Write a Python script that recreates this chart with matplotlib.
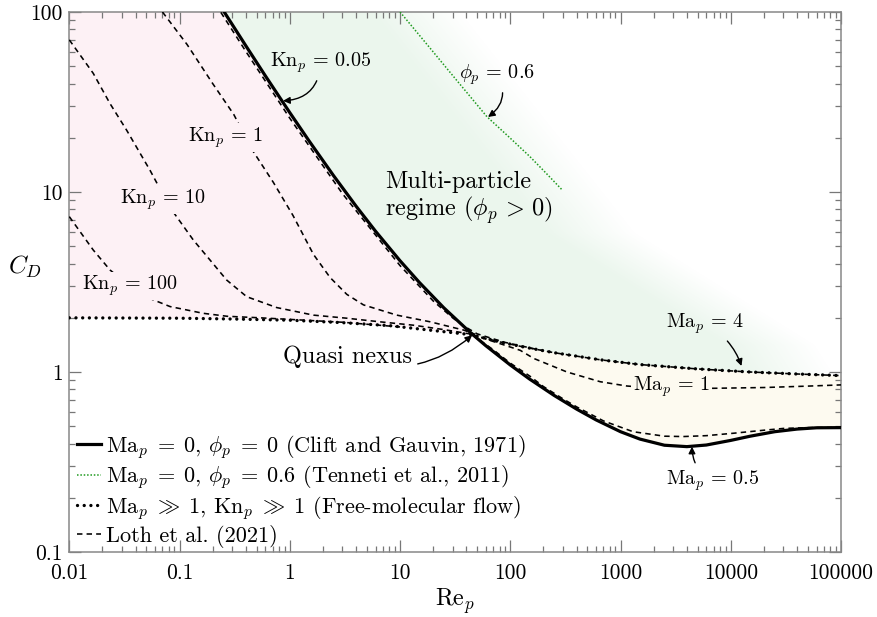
import numpy as np
import matplotlib
matplotlib.use("Agg")
import matplotlib.pyplot as plt
from matplotlib.patches import Polygon
from matplotlib.ticker import FixedLocator, FixedFormatter, NullFormatter

plt.rcParams["font.family"] = "serif"
plt.rcParams["font.serif"] = ["cmr10"]
plt.rcParams["mathtext.fontset"] = "cm"
plt.rcParams["axes.formatter.use_mathtext"] = True
plt.rcParams["axes.unicode_minus"] = False

# Clift and Gauvin (1971): Ma_p = 0, phi_p = 0
re_cg = [0.2, 0.25, 0.4, 0.6, 1, 1.5, 2.5, 4, 6, 10, 15, 25, 40, 45, 60, 100, 150, 250,
         400, 600, 1000, 1500, 2500, 4000, 6000, 10000, 15000, 25000, 40000, 60000, 100000]
cd_cg = [126, 101.6, 64.8, 44.2, 27.6, 19.17, 12.3, 8.33, 6.05, 4.15, 3.14, 2.27, 1.736, 1.626,
         1.40, 1.094, 0.913, 0.741, 0.622, 0.542, 0.466, 0.424, 0.392, 0.385, 0.393, 0.417,
         0.440, 0.466, 0.482, 0.490, 0.491]

# Tenneti et al. (2011): Ma_p = 0, phi_p = 0.6
re_phi = [10, 18.8, 30, 61.4, 100, 151, 220, 294]
cd_phi = [100, 62.8, 44.4, 26.2, 19.9, 15.7, 12.4, 10.3]

# free-molecular flow: Ma_p >> 1, Kn_p >> 1
re_fm = [0.01, 0.1, 0.3, 1, 3, 8, 20, 45, 80, 130, 250, 650, 1500, 5000, 15000, 40000, 100000]
cd_fm = [2.0, 1.99, 1.97, 1.94, 1.88, 1.81, 1.70, 1.61, 1.47, 1.38, 1.28, 1.17, 1.10, 1.04,
         1.0, 0.975, 0.955]

# Loth et al. (2021), fixed Kn_p
re_kn100 = [0.01, 0.0165, 0.0234, 0.035, 0.054, 0.082, 0.163, 0.27, 0.54, 1, 3, 10]
cd_kn100 = [7.3, 4.76, 3.69, 3.0, 2.56, 2.31, 2.12, 2.04, 2.0, 1.96, 1.89, 1.78]
re_kn10 = [0.01, 0.0165, 0.0234, 0.0332, 0.054, 0.082, 0.1334, 0.189, 0.268, 0.407, 0.762,
           1.64, 3.29, 6.6, 13.2, 25, 45]
cd_kn10 = [70, 45.6, 31, 22, 13.2, 8.2, 5.41, 4.19, 3.24, 2.62, 2.28, 2.07, 1.99, 1.90,
           1.82, 1.72, 1.62]
re_kn1 = [0.07, 0.117, 0.2, 0.31, 0.46, 0.71, 1.07, 1.64, 2.32, 3.29, 4.66, 9.35, 18.8, 37.7, 48]
cd_kn1 = [100, 66, 40, 27, 17, 11.3, 7.4, 4.5, 3.35, 2.7, 2.36, 2.07, 1.90, 1.71, 1.62]
re_kn005 = [0.237, 0.4, 1, 3, 10, 20, 30, 38, 50, 65, 90, 130, 200]
cd_kn005 = [99.5, 60.3, 25.7, 9.8, 3.9, 2.48, 2.0, 1.80, 1.63, 1.55, 1.46, 1.39, 1.31]

# Loth et al. (2021), fixed Ma_p
re_ma4 = [45, 80, 130, 250, 650, 1500, 5000, 15000, 40000, 100000]
cd_ma4 = [1.61, 1.47, 1.38, 1.28, 1.17, 1.10, 1.04, 1.0, 0.975, 0.955]
re_ma1 = [45, 80, 123, 163, 327, 655, 1143, 2000, 7000, 20000, 50000, 100000]
cd_ma1 = [1.61, 1.44, 1.32, 1.19, 1.0, 0.883, 0.836, 0.815, 0.812, 0.82, 0.835, 0.848]
re_ma05 = [45, 70, 100, 150, 200, 300, 400, 700, 1300, 2500, 3700, 6000, 10600, 20000,
           30100, 50000, 100000]
cd_ma05 = [1.61, 1.33, 1.12, 0.95, 0.83, 0.71, 0.64, 0.535, 0.466, 0.44, 0.438, 0.443,
           0.457, 0.475, 0.486, 0.491, 0.492]

x_ticks = [0.01, 0.1, 1, 10, 100, 1000, 10000, 100000]
x_labels = ["0.01", "0.1", "1", "10", "100", "1000", "10000", "100000"]
y_ticks = [0.1, 1, 10, 100]
y_labels = ["0.1", "1", "10", "100"]

pink = "#fdf1f5"
green = (0.925, 0.965, 0.933)
cream = "#fdfaf0"
dash = (3.4, 2.6)

fig = plt.figure(figsize=(8.78, 6.17), dpi=100)
ax = fig.add_axes([0.0789, 0.1053, 0.8790, 0.8753])
ax.set_xscale("log")
ax.set_yscale("log")
ax.set_xlim(0.01, 100000)
ax.set_ylim(0.1, 100)
ax.set_autoscale_on(False)

# shaded regimes
cg = list(zip(re_cg, cd_cg))
fm = list(zip(re_fm, cd_fm))
cg_lo = [p for p in cg if p[0] <= 45]
cg_hi = [p for p in cg if p[0] >= 45]
fm_lo = [p for p in fm if p[0] <= 45]
fm_hi = [p for p in fm if p[0] >= 45]

ax.add_patch(Polygon([(0.01, 200), (0.2, 200)] + cg_lo + fm_lo[::-1],
                     closed=True, facecolor=pink, edgecolor="none", zorder=0))
ax.add_patch(Polygon(fm_hi + cg_hi[::-1], closed=True, facecolor=cream,
                     edgecolor="none", zorder=0))

green_poly = Polygon(cg_lo + fm_hi + [(100000, 200), (0.2, 200)], closed=True,
                     transform=ax.transData)
h, w = 540, 772
px = 69.3 + np.arange(w)[None, :]
py = 12 + np.arange(h)[:, None]
centre = np.interp(py, [12, 233, 345, 552], [415, 590, 770, 900])
fade = np.clip((centre + 45 - px) / 90, 0, 1)
img = np.zeros((h, w, 4))
img[..., 0], img[..., 1], img[..., 2] = green
img[..., 3] = fade
im = ax.imshow(img, extent=(0, 1, 0, 1), transform=ax.transAxes, aspect="auto",
               origin="upper", interpolation="bilinear", zorder=0)
im.set_clip_path(green_poly)
ax.set_xlim(0.01, 100000)
ax.set_ylim(0.1, 100)

# curves
l_cg, = ax.plot(re_cg, cd_cg, color="k", lw=2.3, zorder=4,
                label=r"$\mathrm{Ma}_p\;=\;0$, $\phi_p\;=\;0$ (Clift and Gauvin, 1971)")
l_phi, = ax.plot(re_phi, cd_phi, color="#1f9a1f", lw=1.1, dashes=(1, 1.2), zorder=4,
                 label=r"$\mathrm{Ma}_p\;=\;0$, $\phi_p\;=\;0.6$ (Tenneti et al., 2011)")
l_fm, = ax.plot(re_fm, cd_fm, color="k", lw=2.4, dashes=(0.01, 2.0),
                dash_capstyle="round", zorder=3,
                label=r"$\mathrm{Ma}_p\;\gg\;1$, $\mathrm{Kn}_p\;\gg\;1$ (Free-molecular flow)")
l_loth, = ax.plot(re_kn100, cd_kn100, color="k", lw=1.15, dashes=dash, zorder=3,
                  label="Loth et al. (2021)")
for r, c in [(re_kn10, cd_kn10), (re_kn1, cd_kn1), (re_kn005, cd_kn005),
             (re_ma4, cd_ma4), (re_ma1, cd_ma1), (re_ma05, cd_ma05)]:
    ax.plot(r, c, color="k", lw=1.15, dashes=dash, zorder=3)

# labels
fs = 14.5
box = dict(boxstyle="square,pad=0.1", edgecolor="none")
arrow = dict(arrowstyle="-|>", color="k", lw=1.0, mutation_scale=10, shrinkA=2, shrinkB=0)
ax.annotate(r"$\mathrm{Kn}_p\,=\,0.05$", xy=(0.869, 32.1), xytext=(1.9, 52),
            ha="center", va="center", fontsize=fs, zorder=6,
            arrowprops=dict(arrow, connectionstyle="arc3,rad=-0.45"))
ax.text(0.264, 20, r"$\mathrm{Kn}_p\,=\,1$", ha="center", va="center", fontsize=fs,
        bbox=dict(box, facecolor=pink), zorder=5)
ax.text(0.0711, 9.04, r"$\mathrm{Kn}_p\,=\,10$", ha="center", va="center", fontsize=fs,
        bbox=dict(box, facecolor=pink), zorder=5)
ax.text(0.0356, 3.0, r"$\mathrm{Kn}_p\,=\,100$", ha="center", va="center", fontsize=fs,
        bbox=dict(box, facecolor=pink), zorder=5)
ax.annotate(r"$\phi_p\,=\,0.6$", xy=(62.8, 26.1), xytext=(76, 44.7),
            ha="center", va="center", fontsize=fs, zorder=6,
            arrowprops=dict(arrow, connectionstyle="arc3,rad=-0.45"))
ax.text(7.33, 9.2, "Multi-particle\nregime ($\\phi_p\\,>\\,0$)", ha="left", va="center",
        fontsize=17.5, linespacing=1.05, zorder=5)
ax.annotate("Quasi nexus", xy=(45, 1.6), xytext=(12.9, 1.21),
            ha="right", va="center", fontsize=17.5, zorder=6,
            arrowprops=dict(arrow, connectionstyle="arc3,rad=0.3"))
ax.annotate(r"$\mathrm{Ma}_p\,=\,4$", xy=(12500, 1.08), xytext=(5875, 1.85),
            ha="center", va="center", fontsize=fs, zorder=6,
            arrowprops=dict(arrow, connectionstyle="arc3,rad=-0.2"))
ax.text(2884, 0.826, r"$\mathrm{Ma}_p\,=\,1$", ha="center", va="center", fontsize=fs,
        bbox=dict(box, facecolor=cream), zorder=5)
ax.annotate(r"$\mathrm{Ma}_p\,=\,0.5$", xy=(4446, 0.385), xytext=(6790, 0.25),
            ha="center", va="center", fontsize=fs, zorder=6,
            arrowprops=dict(arrow, connectionstyle="arc3,rad=-0.3"))

# axes styling
ax.xaxis.set_major_locator(FixedLocator(x_ticks))
ax.xaxis.set_major_formatter(FixedFormatter(x_labels))
ax.xaxis.set_minor_formatter(NullFormatter())
ax.yaxis.set_major_locator(FixedLocator(y_ticks))
ax.yaxis.set_major_formatter(FixedFormatter(y_labels))
ax.yaxis.set_minor_formatter(NullFormatter())
ax.tick_params(which="both", direction="in", top=True, right=True, color="#777777",
               width=0.9, labelsize=15.5)
ax.tick_params(axis="x", pad=8)
ax.tick_params(axis="y", pad=5)
ax.tick_params(which="major", length=8.5)
ax.tick_params(which="minor", length=4.5)
for s in ax.spines.values():
    s.set_color("#888888")
    s.set_linewidth(1.1)

ax.set_xlabel(r"$\mathrm{Re}_p$", fontsize=17.5, labelpad=3)
ax.set_ylabel(r"$C_D$", fontsize=18, rotation=0, ha="center", va="center")
ax.yaxis.set_label_coords(-0.0574, 0.528)

ax.legend(handles=[l_cg, l_phi, l_fm, l_loth], loc="lower left",
          bbox_to_anchor=(0.01, 0.008), frameon=False, fontsize=16,
          handlelength=1.1, handletextpad=0.2, labelspacing=0.12,
          borderpad=0, borderaxespad=0)

fig.savefig("out.png", dpi=100)
